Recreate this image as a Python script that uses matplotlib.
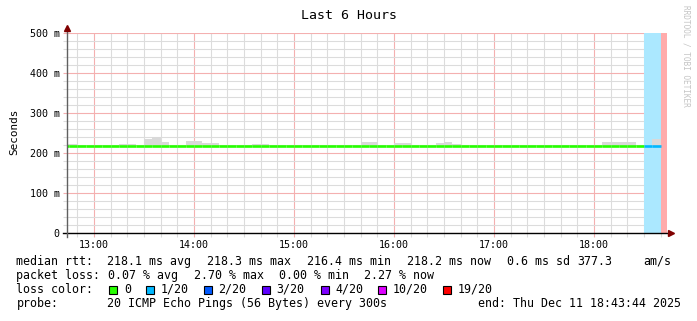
import numpy as np
import pandas as pd
import matplotlib
matplotlib.use("Agg")
import matplotlib.pyplot as plt
from matplotlib.patches import Rectangle

plt.rcParams['font.family'] = 'DejaVu Sans Mono'

W, H = 697, 321

# 5 minute bins, 12:40 .. 18:40
bin_start = pd.date_range("2025-12-11 12:40", "2025-12-11 18:40", freq="5min")
t_end = pd.Timestamp("2025-12-11 18:43:44")
t_begin = t_end - pd.Timedelta(hours=6)

median_ms = [216.5] * 8 + [218.2] * 62 + [218.3, 218.3, np.nan]
loss = [0] * 70 + [1, 1, 19]

smoke_top = {0: 222, 1: 222, 7: 222, 8: 222, 10: 234, 11: 240, 12: 227.5,
             15: 230, 16: 230, 17: 224, 18: 224, 23: 222, 24: 222,
             36: 227, 37: 227, 40: 225, 41: 225, 45: 225, 46: 227.5, 47: 222,
             65: 227, 66: 227, 67: 227, 68: 227, 71: 234}

loss_levels = [0, 1, 2, 3, 4, 10, 19]
loss_labels = ["0", "1/20", "2/20", "3/20", "4/20", "10/20", "19/20"]
loss_colors = ["#26ff00", "#00b8ff", "#0059ff", "#5e00ff", "#7e00ff", "#dd00ff", "#ff0000"]
band_colors = {1: "#abe8ff", 19: "#ffabab"}

x_ticks = ["13:00", "14:00", "15:00", "16:00", "17:00", "18:00"]
y_major = [0, 100, 200, 300, 400, 500]
y_labels = ["0", "100 m", "200 m", "300 m", "400 m", "500 m"]


def hrs(t):
    return (t - t_begin) / pd.Timedelta(hours=1)


x0 = np.array([hrs(t) for t in bin_start])
step = 5 / 60

fig = plt.figure(figsize=(W / 100, H / 100), dpi=100)
ax = fig.add_axes([67 / W, 88 / H, 600 / W, 200 / H])
ax.set_xlim(0, 6)
ax.set_ylim(0, 500)

# grid
xt = [hrs(pd.Timestamp("2025-12-11 " + s)) for s in x_ticks]
ax.set_xticks(xt)
ax.set_xticklabels(x_ticks)
ax.set_xticks(np.arange(xt[0] - 10 / 60, 6, 10 / 60), minor=True)
ax.set_yticks(y_major)
ax.set_yticklabels(y_labels)
ax.set_yticks(np.arange(0, 501, 20), minor=True)
ax.grid(which='minor', color='#dcdcdc', lw=0.8, zorder=0)
ax.grid(which='major', color='#f4b0b0', lw=0.8, zorder=0)
ax.set_axisbelow(True)
ax.tick_params(which='major', length=3, width=0.8, color='#f4b0b0', labelsize=7.2, pad=2.2)
ax.tick_params(which='minor', length=3, width=0.8, color='#dcdcdc')
for s in ax.spines.values():
    s.set_visible(False)

# loss background bands
for i, l in enumerate(loss):
    if l in band_colors:
        ax.axvspan(x0[i], x0[i] + step, color=band_colors[l], lw=0, zorder=1)

# smoke
for i, top in smoke_top.items():
    base = median_ms[i] if not np.isnan(median_ms[i]) else 218
    ax.bar(x0[i], top - base + 2, bottom=base - 2, width=step, align='edge',
           color='#d9d9d9', lw=0, zorder=2)

# median line coloured by loss
for i, m in enumerate(median_ms):
    if np.isnan(m):
        continue
    c = loss_colors[loss_levels.index(loss[i])]
    ax.plot([x0[i], x0[i] + step], [m, m], color=c, lw=1.9, solid_capstyle='butt', zorder=3)
    if i + 1 < len(median_ms) and not np.isnan(median_ms[i + 1]) and median_ms[i + 1] != m:
        ax.plot([x0[i] + step] * 2, [m, median_ms[i + 1]], color=c, lw=1.9, zorder=3)

# axes lines + arrows
ax.plot([-4 / 600, 603 / 600], [0, 0], color='black', lw=1, transform=ax.transAxes, clip_on=False, zorder=4)
ax.plot([0, 0], [-4 / 200, 1.02], color='#606060', lw=1, transform=ax.transAxes, clip_on=False, zorder=4)
ax.plot([1.0065], [0], marker='>', ms=4, color='#800000', transform=ax.transAxes, clip_on=False, zorder=5)
ax.plot([0], [1.025], marker='^', ms=4, color='#800000', transform=ax.transAxes, clip_on=False, zorder=5)


def ftext(x, y, s, **kw):
    kw.setdefault('fontsize', 8.4)
    kw.setdefault('va', 'center')
    fig.text(x / W, 1 - y / H, s, **kw)


ftext(349, 15.7, "Last 6 Hours", fontsize=9.5, ha='center')
ftext(13.8, 132, "Seconds", fontsize=7.9, ha='center', rotation=90)
ftext(686, 5, "RRDTOOL / TOBI OETIKER", fontsize=5.6, ha='center', va='top',
      rotation=270, color='#c4c4c4')

# legend
y1, y2, y3, y4 = 261.5, 275.5, 289.5, 303.5
ftext(16.5, y1, "median rtt:")
for x, s in [(106.7, "218.1 ms avg"), (207, "218.3 ms max"), (307, "216.4 ms min"),
             (407, "218.2 ms now"), (507, "0.6 ms sd"), (577, "377.3"), (643, "am/s")]:
    ftext(x, y1, s)

ftext(16.5, y2, "packet loss:")
for x, s in [(107.5, "0.07 % avg"), (194, "2.70 % max"), (279, "0.00 % min"), (364, "2.27 % now")]:
    ftext(x, y2, s)

ftext(16.5, y3, "loss color:")
sq_x = [109.3, 146.2, 203.5, 262, 320.5, 378, 443]
for x, lab, c in zip(sq_x, loss_labels, loss_colors):
    fig.add_artist(Rectangle((x / W, 1 - 293.5 / H), 8 / W, 8 / H, transform=fig.transFigure,
                             facecolor=c, edgecolor='black', lw=0.8))
    ftext(x + 14.5, y3, lab)

ftext(16.5, y4, "probe:")
ftext(106.7, y4, "20 ICMP Echo Pings (56 Bytes) every 300s")
ftext(681, y4, "end: Thu Dec 11 18:43:44 2025", ha='right')

fig.savefig("out.png", dpi=100, facecolor='white')
